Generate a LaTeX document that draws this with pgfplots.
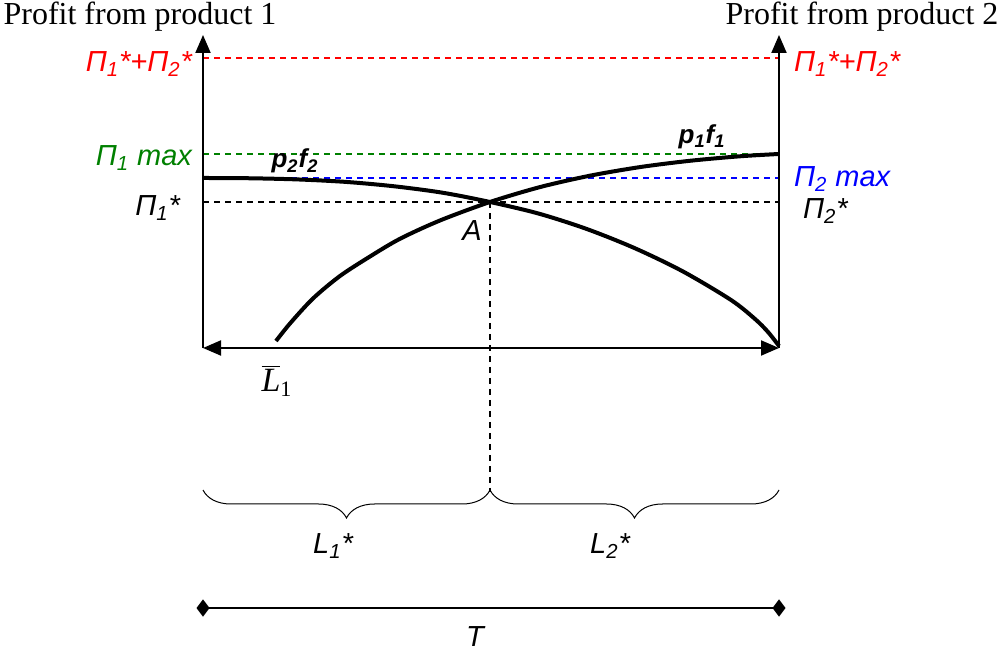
\documentclass[border=0pt]{standalone}
\usepackage{fontspec}
\setmainfont{Liberation Serif}
\newfontfamily\arial{Liberation Sans}
\usepackage{pgfplots}
\pgfplotsset{compat=1.18}
\usetikzlibrary{arrows.meta,decorations.pathreplacing}

\definecolor{dgreen}{RGB}{0,128,0}
\newcommand{\lab}[1]{{\arial\itshape #1}}
\tikzset{
  ah/.style={line width=1pt, black},
  tip/.tip={Triangle[length=9pt,width=7.5pt]},
  ref/.style={line width=0.8pt, dash pattern=on 3pt off 2.5pt},
}

\begin{document}
\begin{tikzpicture}
\begin{axis}[
  scale only axis,
  width=500pt, height=326pt,
  xmin=0, xmax=1000, ymin=0, ymax=652,
  y dir=reverse,
  hide axis,
  clip=false,
]
% reference levels (dashed)
\addplot[red, ref] coordinates {(203,58) (779,58)};
\addplot[dgreen, ref] coordinates {(203,154) (779,154)};
\addplot[blue, ref] coordinates {(203,178) (779,178)};
\addplot[black, ref] coordinates {(203,202) (779,202)};
\addplot[black, ref] coordinates {(490,202) (490,492)};

% axes
\addplot[ah, -tip] coordinates {(203,348) (203,35)};
\addplot[ah, -tip] coordinates {(779,348) (779,35)};
\addplot[ah, tip-tip] coordinates {(203,348) (779,348)};

% p2 f2 (falls from left to right)
\addplot[black, line width=2pt, smooth] coordinates {
  (204,178) (251,178.3) (299,179.5) (347,182) (395,186.4) (443,192.8) (490,202)
  (539,213.7) (587,229.1) (635,248.3) (683,271.5) (731,300) (755,319) (768,332) (779,346)
};
% p1 f1 (rises from L1bar)
\addplot[black, line width=2pt, smooth] coordinates {
  (276,341) (290,323.5) (313,298.5) (340,276) (370,256.5) (400,238.8) (440,220.5)
  (490,202) (540,187.1) (590,175.7) (640,167.1) (690,160.8) (740,156.3) (779,154)
};

% T segment
\addplot[black, line width=1pt, mark=diamond*, mark size=3.5pt] coordinates {(203,608) (779,608)};

% braces
\draw[line width=0.5pt, decorate, decoration={brace, mirror, amplitude=14pt}]
  (axis cs:203,490) -- (axis cs:490,490);
\draw[line width=0.5pt, decorate, decoration={brace, mirror, amplitude=14pt}]
  (axis cs:490,490) -- (axis cs:779,490);

% labels
\node[font=\fontsize{16}{18}\selectfont] at (axis cs:140,17) {Profit from product 1};
\node[font=\fontsize{16}{18}\selectfont] at (axis cs:862,17) {Profit from product 2};

\node[anchor=east, text=red, font=\fontsize{14.5}{16}\selectfont] at (axis cs:199,64)
  {\lab{Π\textsubscript{1}*+Π\textsubscript{2}*}};
\node[anchor=west, text=red, font=\fontsize{14.5}{16}\selectfont] at (axis cs:787,64)
  {\lab{Π\textsubscript{1}*+Π\textsubscript{2}*}};
\node[anchor=east, text=dgreen, font=\fontsize{14.5}{16}\selectfont] at (axis cs:199,158)
  {\lab{Π\textsubscript{1} max}};
\node[anchor=west, text=blue, font=\fontsize{14.5}{16}\selectfont] at (axis cs:787,179)
  {\lab{Π\textsubscript{2} max}};
\node[anchor=east, font=\fontsize{14.5}{16}\selectfont] at (axis cs:187,208)
  {\lab{Π\textsubscript{1}*}};
\node[anchor=west, font=\fontsize{14.5}{16}\selectfont] at (axis cs:796,211)
  {\lab{Π\textsubscript{2}*}};

\node[font=\fontsize{13}{15}\selectfont] at (axis cs:295,161)
  {{\arial\bfseries\itshape p\textsubscript{2}f\textsubscript{2}}};
\node[font=\fontsize{13}{15}\selectfont] at (axis cs:702,137)
  {{\arial\bfseries\itshape p\textsubscript{1}f\textsubscript{1}}};
\node[font=\fontsize{14.5}{16}\selectfont] at (axis cs:472,231) {\lab{A}};
\node[font=\fontsize{17}{19}\selectfont] at (axis cs:277,381)
  {$\overline{\mbox{\itshape L}}_{\mbox{\fontsize{11}{12}\selectfont 1}}$};

\node[font=\fontsize{14.5}{16}\selectfont] at (axis cs:333,546) {\lab{L\textsubscript{1}*}};
\node[font=\fontsize{14.5}{16}\selectfont] at (axis cs:610,546) {\lab{L\textsubscript{2}*}};
\node[font=\fontsize{14.5}{16}\selectfont] at (axis cs:475,637) {\lab{T}};
\end{axis}
\pgfresetboundingbox
\path[use as bounding box] (0,0) rectangle (500pt,326pt);
\end{tikzpicture}
\end{document}
